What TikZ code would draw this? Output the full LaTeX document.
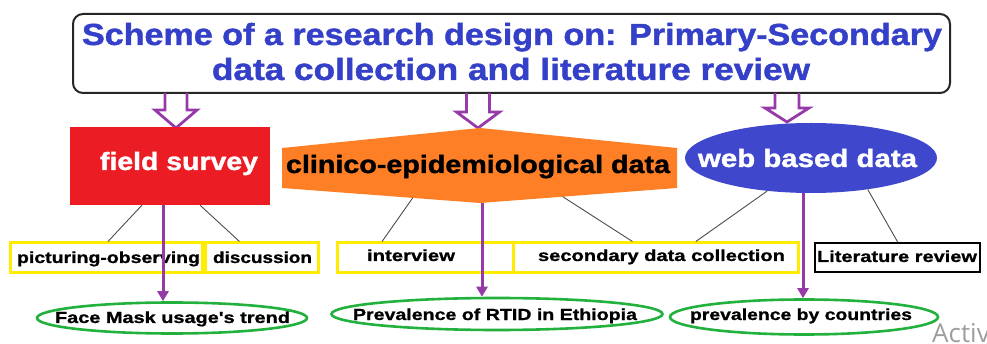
\documentclass[tikz,border=0pt]{standalone}
\usepackage{fontspec}
\setmainfont{Liberation Sans}
\newfontfamily\hvy{Liberation Sans}[UprightFont=* Bold, FakeBold=1.3]
\newfontfamily\hvym{Liberation Sans}[UprightFont=* Bold, FakeBold=0.9]
\newfontfamily\wmfont{Open Sans}
\usepackage{graphicx}
\usetikzlibrary{shapes.geometric,arrows.meta,calc}
\definecolor{titleblue}{RGB}{52,64,200}
\definecolor{boxred}{RGB}{236,28,36}
\definecolor{hexorange}{RGB}{255,127,39}
\definecolor{ellblue}{RGB}{63,72,204}
\definecolor{arrpurple}{RGB}{150,58,168}
\definecolor{ellgreen}{RGB}{34,177,60}
\definecolor{boxyellow}{RGB}{255,236,0}
\newcommand{\fitw}[2]{\resizebox{#1}{\height}{#2}}
\newcommand{\harrow}[6]{%
  \draw[hollow] ({#1-#5},#2) -- ({#1-#5},#3) -- ({#1-#6},#3) -- (#1,#4)
    -- ({#1+#6},#3) -- ({#1+#5},#3) -- ({#1+#5},#2);}
\begin{document}
\begin{tikzpicture}[x=1pt,y=-1pt,
  lbl/.style={anchor=base, inner sep=0pt},
  ybox/.style={draw=boxyellow, line width=3pt, fill=white, inner sep=0pt, minimum height=30pt},
  gell/.style={ellipse, draw=ellgreen, line width=2.6pt, fill=white, inner sep=0pt},
  parrow/.style={draw=arrpurple, line width=3pt, -{Triangle[length=10pt,width=11pt]}},
  hollow/.style={draw=arrpurple, line width=2.8pt, line join=miter},
  thinline/.style={draw=black!70, line width=0.9pt},
  bigb/.style={font=\hvy\fontsize{30.5}{30.5}\selectfont},
  hdb/.style={font=\hvy\fontsize{25}{25}\selectfont},
  midb/.style={font=\hvym\fontsize{16}{16}\selectfont}]
\useasboundingbox (0,0) rectangle (987,344);

% title box
\node[draw=black!85, line width=2pt, rounded corners=10pt, minimum width=877pt,
      minimum height=79pt, inner sep=0pt] (title) at (511.5,53.5) {};
\node[lbl, text=titleblue, bigb] (t1) at (512,45) {\fitw{860pt}{Scheme of a research design on: Primary-Secondary}};
\node[lbl, text=titleblue, bigb] (t2) at (511,80) {\fitw{598pt}{data collection and literature review}};

% hollow arrows
\harrow{176}{93}{110}{128}{11}{21}
\harrow{478}{93}{112}{128}{11.5}{21.5}
\harrow{787}{93}{108}{122}{12}{22}

% level 1
\node[fill=boxred, minimum width=200pt, minimum height=78pt, inner sep=0pt] (fs) at (170,166) {};
\node[lbl, text=white, hdb] (fst) at (179,170) {\fitw{158pt}{field survey}};

\coordinate (clL1) at (282,148);
\coordinate (clT) at (480,128);
\coordinate (clR1) at (677,148);
\coordinate (clR2) at (677,188);
\coordinate (clB) at (480,203);
\coordinate (clL2) at (282,188);
\fill[hexorange] (clL1) -- (clT) -- (clR1) -- (clR2) -- (clB) -- (clL2) -- cycle;
\node[lbl, text=black, hdb] (clt) at (478,173) {\fitw{384pt}{clinico-epidemiological data}};

\node[ellipse, fill=ellblue, minimum width=252pt, minimum height=70pt, inner sep=0pt] (wb) at (811,158) {};
\node[lbl, text=white, hdb] (wbt) at (807.5,167) {\fitw{219pt}{web based data}};

% level 2 boxes
\node[ybox, minimum width=192pt] (po) at (106,258) {};
\node[ybox, minimum width=113pt] (di) at (261.5,258) {};
\node[ybox, minimum width=176pt] (iv) at (425,258) {};
\node[ybox, minimum width=285pt] (sd) at (655.5,258) {};
\node[draw=black, line width=2.5pt, fill=white, inner sep=0pt, minimum width=165pt, minimum height=29pt] (lr) at (897.5,257.5) {};

\node[lbl, midb] (pot) at (108.5,263) {\fitw{183pt}{picturing-observing}};
\node[lbl, midb] (dit) at (262.5,263) {\fitw{99pt}{discussion}};
\node[lbl, midb] (ivt) at (411,261) {\fitw{88pt}{interview}};
\node[lbl, midb] (sdt) at (661.5,261) {\fitw{247pt}{secondary data collection}};
\node[lbl, midb] (lrt) at (897,262) {\fitw{160pt}{Literature review}};

% level 3 ellipses
\node[gell, minimum width=270pt, minimum height=31pt] (e1) at (172,318) {};
\node[gell, minimum width=331pt, minimum height=32pt] (e2) at (497,314) {};
\node[gell, minimum width=268pt, minimum height=35pt] (e3) at (804,317) {};
\node[lbl, midb] (e1t) at (172.5,323) {\fitw{235pt}{Face Mask usage's trend}};
\node[lbl, midb] (e2t) at (495,320) {\fitw{284pt}{Prevalence of RTID in Ethiopia}};
\node[lbl, midb] (e3t) at (801,320) {\fitw{222pt}{prevalence by countries}};

% thin connectors
\draw[thinline] ($(fs.south west)!0.36!(fs.south east)$) -- ($(po.north west)!0.51!(po.north east)$);
\draw[thinline] ($(fs.south west)!0.65!(fs.south east)$) -- ($(di.north west)!0.31!(di.north east)$);
\draw[thinline] ($(clL2)!0.66!(clB)$) -- ($(iv.north west)!0.26!(iv.north east)$);
\draw[thinline] ($(clB)!0.42!(clR2)$) -- ($(sd.north west)!0.42!(sd.north east)$);
\draw[thinline] (wb.217) -- ($(sd.north west)!0.64!(sd.north east)$);
\draw[thinline] (wb.331) -- ($(lr.north west)!0.5!(lr.north east)$);

% purple arrows
\coordinate (ax1) at (163,0);
\coordinate (ax2) at (482,0);
\coordinate (ax3) at (803,0);
\draw[parrow] (ax1 |- fs.south) -- (ax1 |- e1.north);
\draw[parrow] (ax2 |- clB) -- (ax2 |- e2.north);
\draw[parrow] (ax3 |- wb.south) -- (ax3 |- e3.north);

% watermark (cut at the right edge, as in the reference)
\node[anchor=base west, inner sep=0pt, text=black!38, font=\wmfont\fontsize{26}{26}\selectfont] (wm) at (932,342) {Activ};
\end{tikzpicture}
\end{document}
